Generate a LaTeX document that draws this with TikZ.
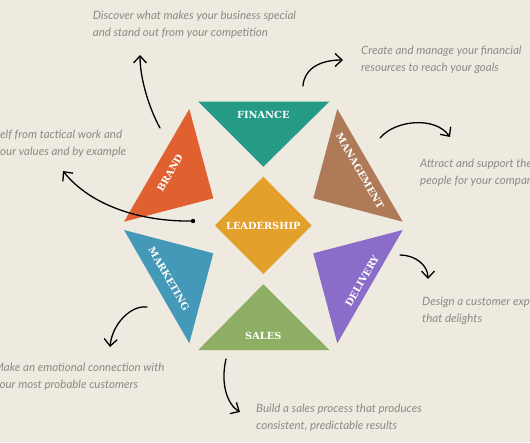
\documentclass[tikz,border=0pt]{standalone}
\usepackage{fontspec}
\usepackage{tikz}
\usetikzlibrary{arrows.meta}
\usepackage{xcolor}
\newfontfamily\notefont{Lato}
\newfontfamily\labelfont{DejaVu Serif}
\definecolor{paper}{HTML}{EEEADF}
\definecolor{notegray}{HTML}{8D8A86}
\definecolor{financecol}{HTML}{259A87}
\definecolor{brandcol}{HTML}{E0602F}
\definecolor{mgmtcol}{HTML}{AF7A58}
\definecolor{leadcol}{HTML}{E3A02A}
\definecolor{marketcol}{HTML}{4599B8}
\definecolor{delivcol}{HTML}{8A6DC9}
\definecolor{salescol}{HTML}{8DAE63}
\tikzset{%
	every piece/.style={
		text=white,
		inner sep=0pt,
		font=\labelfont\bfseries\fontsize{9.8}{11}\selectfont
	},
	note/.style={
		text=notegray,
		anchor=base west,
		align=left,
		inner sep=0pt,
		font=\notefont\itshape\fontsize{11.5}{16.5}\selectfont
	},
	scribble/.style={
		line width=1.3pt,
		line cap=round,
		-{Straight Barb[length=7pt,width=13pt,line width=1.3pt]}
	},
}
\begin{document}
\begin{tikzpicture}[x=1pt,y=-1pt]
			\useasboundingbox (0,0) rectangle (530,442);
			\clip (0,0) rectangle (530,442);
			\fill[paper] (0,0) rectangle (530,442);
			
			% the seven pieces
			\fill[financecol] (198.3,101.7) -- (329.3,101.7) -- (263.3,166.7) -- cycle;
			\fill[salescol] (198.3,350) -- (329.3,350) -- (263.3,284.3) -- cycle;
			\fill[leadcol] (215,225.5) -- (263.3,176.7) -- (311.7,225.5) -- (263.3,274) -- cycle;
			\fill[brandcol] (189.3,109) -- (124,221.7) -- (213.3,198.3) -- cycle;
			\fill[mgmtcol] (337.3,109) -- (402.7,221.7) -- (313.3,198.3) -- cycle;
			\fill[marketcol] (124,230) -- (213.3,253.3) -- (189.3,343.3) -- cycle;
			\fill[delivcol] (402.7,230) -- (313.3,253.3) -- (337.3,343.3) -- cycle;
			
			\node[every piece] (finance) at (263.3,115) {FINANCE};
			\node[every piece] (sales) at (263.3,336) {SALES};
			\node[every piece] (leadership) at (263.3,225.5) {LEADERSHIP};
			\node[every piece, rotate=60] (brand) at (170,173) {BRAND};
			\node[every piece, rotate=-60] (management) at (360,171) {MANAGEMENT};
			\node[every piece, rotate=-60] (marketing) at (169,279) {MARKETING};
			\node[every piece, rotate=60] (delivery) at (362,281) {DELIVERY};
			
			% notes (base = last line)
			\node[note] (brandNote) at (92.7,36) {Discover what makes your business special\\and stand out from your competition};
			\node[note] (financeNote) at (361,71) {Create and manage your financial\\resources to reach your goals};
			\node[note] (leadNote) at (0,155) {\llap{yours}elf from tactical work and\\\llap{y}our values and by example};
			\node[note] (mgmtNote) at (420,184) {Attract and support the right\\people for your company};
			\node[note] (delivNote) at (422,322.3) {Design a customer experience\\that delights};
			\node[note] (marketNote) at (-6,388.3) {Make an emotional connection with\\your most probable customers};
			\node[note] (salesNote) at (256,429.3) {Build a sales process that produces\\consistent, predictable results};
			
			% hand drawn arrows
			\coordinate (brandOut) at (160,128);
			\coordinate (brandTip) at (140,55);
			\coordinate (financeOut) at (303,86);
			\coordinate (financeTip) at (343,60);
			\coordinate (mgmtOut) at (380,138);
			\coordinate (mgmtTip) at (450,137);
			\coordinate (leadOut) at (193,221);
			\coordinate (leadTip) at (63,171);
			\coordinate (delivOut) at (400,255);
			\coordinate (delivTip) at (428,279);
			\coordinate (marketOut) at (147,307);
			\coordinate (marketTip) at (110,347);
			\coordinate (salesOut) at (226,359);
			\coordinate (salesTip) at (240,412);
			
			\draw[scribble] (brandOut) .. controls (150,110) and (140,80) .. (brandTip);
			\draw[scribble] (financeOut) .. controls (304,70) and (318,60) .. (financeTip);
			\draw[scribble] (mgmtOut) .. controls (395,120) and (435,116) .. (mgmtTip);
			\draw[scribble] (leadOut) .. controls (140,222) and (90,205) .. (leadTip);
			\fill (leadOut) circle (2.2pt);
			\draw[scribble] (delivOut) .. controls (415,255) and (428,265) .. (delivTip);
			\draw[scribble] (marketOut) .. controls (130,305) and (112,325) .. (marketTip);
			\draw[scribble] (salesOut) .. controls (220,385) and (228,405) .. (salesTip);
			
		\end{tikzpicture}
\end{document}
